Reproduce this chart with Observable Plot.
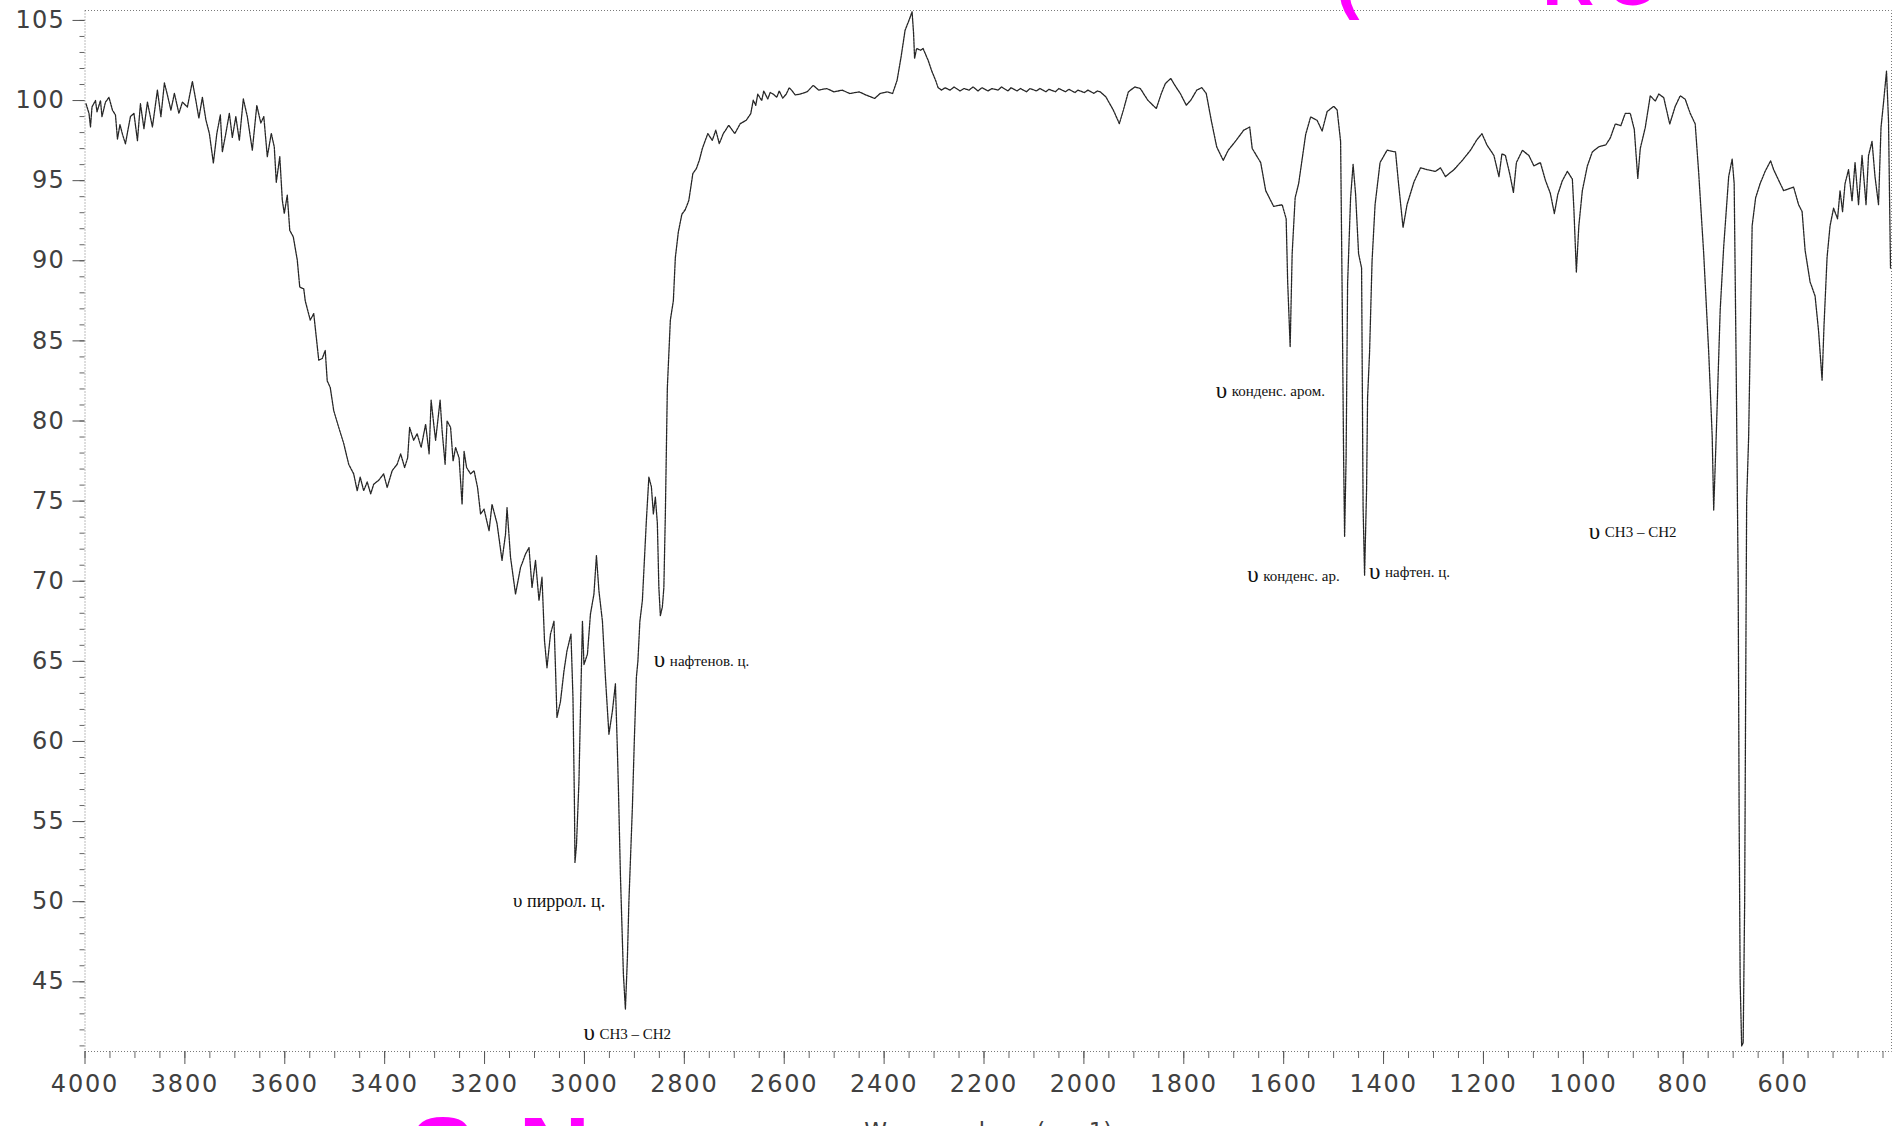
<!DOCTYPE html>
<html>
<head>
<meta charset="utf-8">
<script src="https://cdn.jsdelivr.net/npm/d3@7"></script>
<script src="https://cdn.jsdelivr.net/npm/@observablehq/plot@0.6"></script>
<style>
  html, body { margin: 0; padding: 0; background: #fff; }
  #chart svg { display: block; }
  /* the axis lettering is set wide */
  #chart g[aria-label="x-axis tick label"] text { letter-spacing: 1.8px; }
  #chart g[aria-label="y-axis tick label"] text { letter-spacing: 1.2px; }
  #chart g[aria-label="x-axis title"] text { letter-spacing: 2px; }
</style>
</head>
<body>
<div id="chart"></div>
<script>
// IR transmission spectrum: wavenumber (cm-1) vs transmittance (%), split by region.
const spectrumOH = [
  [3998,99.8],[3992,99.2],[3989,98.35],[3986,99.6],[3979,100.0],[3976,99.3],[3969,100.0],[3966,99.0],
  [3959,99.9],[3952,100.2],[3945,99.4],[3939,99.1],[3935,97.6],[3930,98.5],[3925,97.9],[3919,97.3],
  [3915,98.0],[3909,99.0],[3902,99.2],[3895,97.5],[3889,99.8],[3882,98.25],[3875,99.9],[3865,98.35],
  [3855,100.65],[3848,99.0],[3841,101.1],[3835,100.35],[3828,99.4],[3821,100.45],[3812,99.2],[3805,99.9],
  [3795,99.6],[3785,101.2],[3778,100.0],[3772,98.9],[3765,100.2],[3758,98.8],[3751,97.95],[3743,96.1],
  [3736,97.95],[3729,99.1],[3725,96.8],[3718,97.95],[3711,99.2],[3705,97.7],[3698,99.0],[3691,97.5],
  [3683,100.1],[3675,99.0],[3665,96.9],[3656,99.7],[3648,98.6],[3642,99.0],[3635,96.5],[3627,97.95],
  [3621,97.1],[3617,94.9],[3610,96.5],[3605,93.8],[3601,92.95],[3595,94.1],[3590,91.9],[3583,91.5],
  [3575,90.05],[3570,88.35],[3562,88.25],[3559,87.5],[3549,86.3],[3542,86.7],[3532,83.8],[3525,83.9],
  [3519,84.4],[3515,82.5],[3509,82.1],[3502,80.65],[3492,79.6],[3482,78.6],[3472,77.3],[3462,76.7],
  [3455,75.65],[3449,76.5],[3442,75.65],[3435,76.2],[3428,75.45],[3422,76.05],[3412,76.3],[3402,76.7],
  [3395,75.85],[3385,76.9],[3375,77.3],[3368,77.95],[3360,77.1],[3354,77.7],[3350,79.6],[3342,78.8],
  [3335,79.2],[3327,78.35],[3318,79.8],[3311,77.95],[3307,81.3],[3301,79.6],[3298,78.8],[3289,81.3],
  [3285,79.4],[3279,77.3],[3275,80.0],[3268,79.6],[3263,77.5],[3258,78.35],[3251,77.7],[3245,74.8],
  [3241,78.1],[3236,77.1],[3228,76.7],[3221,76.9],[3214,75.85],[3208,74.2],[3201,74.5]
];

const spectrumCH = [
  [3191,73.15],[3185,74.8],[3175,73.6],[3165,71.3],[3158,72.95],[3155,74.6],[3148,71.5],[3138,69.2],
  [3128,70.85],[3118,71.7],[3111,72.1],[3105,69.6],[3098,71.3],[3091,68.8],[3085,70.25],[3080,66.3],
  [3075,64.6],[3068,66.7],[3061,67.5],[3058,64.6],[3055,61.5],[3048,62.5],[3041,64.4],[3035,65.65],
  [3027,66.7],[3023,62.75],[3020,56.0],[3019,52.45],[3016,53.5],[3011,57.5],[3009,60.45],[3004,67.5],
  [3001,64.8],[2994,65.45],[2988,67.95],[2981,69.2],[2976,71.6],[2971,69.4],[2964,67.5],[2958,64.0],
  [2951,60.45],[2944,61.9],[2938,63.6],[2934,59.4],[2932,57.1],[2928,51.7],[2922,45.46],[2918,43.3],
  [2914,46.5],[2911,50.0],[2904,55.9],[2900,60.2],[2896,64.0],[2893,65.0],[2889,67.5],[2884,68.8],
  [2880,71.3],[2876,73.8],[2871,76.5],[2866,75.9],[2862,74.2],[2858,75.25],[2854,73.6],[2851,69.6],
  [2848,67.85],[2844,68.4],[2841,69.6],[2838,74.2],[2834,82.1],[2828,86.3],[2822,87.5],[2818,90.2],
  [2812,91.8],[2805,92.9],[2798,93.2],[2791,93.77],[2787,94.6],[2783,95.44],[2776,95.75],[2770,96.27],
  [2764,97.0],[2753,97.94],[2744,97.52],[2737,98.15],[2730,97.31],[2722,97.94],[2711,98.46],[2699,97.94],
  [2688,98.56],[2676,98.77],[2667,99.19],[2662,100.02],[2657,99.7],[2653,100.4],[2645,100.0],[2641,100.6],
  [2633,100.1],[2628,100.5],[2622,100.4],[2615,100.2],[2610,100.6],[2603,100.15],[2596,100.4],[2590,100.8],
  [2584,100.6],[2578,100.35],[2569,100.4],[2554,100.55],[2542,100.95],[2531,100.65],[2515,100.75],
  [2500,100.54],[2484,100.65],[2469,100.44],[2450,100.54],[2435,100.33],[2419,100.13],[2408,100.44],
  [2393,100.54],[2383,100.44]
];

const spectrumCO2 = [
  [2374,101.27],[2366,102.73],[2358,104.39],[2350,105.02],[2344,105.54],[2341,104.19],[2339,102.63],
  [2335,103.25],[2327,103.14],[2322,103.25],[2312,102.52],[2304,101.79],[2297,101.27],[2292,100.81],
  [2285,100.65],[2278,100.8],[2268,100.65],[2260,100.85],[2248,100.6],[2240,100.75],[2230,100.65],
  [2222,100.85],[2212,100.6],[2204,100.8],[2192,100.6],[2184,100.75],[2172,100.65],[2165,100.85],
  [2152,100.6],[2146,100.8],[2134,100.6],[2127,100.75],[2115,100.55],[2108,100.75],[2095,100.6],
  [2088,100.75],[2076,100.55],[2070,100.7],[2057,100.55],[2050,100.75],[2037,100.55],[2030,100.7],
  [2018,100.5],[2012,100.65],[1999,100.5],[1992,100.65],[1980,100.45],[1973,100.6],[1967,100.54],
  [1956,100.23],[1941,99.4],[1929,98.56],[1921,99.4],[1911,100.54],[1898,100.85],[1887,100.75],
  [1872,100.02],[1855,99.5],[1845,100.44],[1837,101.06],[1826,101.38],[1818,100.96],[1807,100.44],
  [1795,99.71],[1786,100.02],[1774,100.65],[1764,100.81],[1755,100.44],[1745,98.77],[1734,97.1],
  [1721,96.27],[1711,96.9],[1695,97.52],[1680,98.15],[1668,98.35]
];

const spectrumFingerprint = [
  [1663,97.01],[1646,96.13],[1636,94.38],[1620,93.39],[1603,93.5],[1595,92.62],[1592,88.68],[1587,84.63],
  [1583,90.44],[1577,93.94],[1570,94.82],[1556,97.88],[1546,98.98],[1533,98.76],[1523,98.1],[1513,99.31],
  [1500,99.64],[1493,99.42],[1486,97.45],[1483,88.24],[1480,77.72],[1478,72.79],[1475,77.72],[1472,88.57],
  [1466,93.94],[1461,96.02],[1456,94.16],[1450,90.44],[1444,89.55],[1441,74.65],[1438,70.38],[1434,75.75],
  [1432,81.45],[1428,84.3],[1423,90.0],[1417,93.5],[1407,96.13],[1393,96.9],[1376,96.79],[1370,94.82],
  [1361,92.08],[1353,93.5],[1339,94.93],[1326,95.8],[1313,95.69],[1296,95.58],[1286,95.8],[1276,95.25],
  [1259,95.69],[1243,96.24],[1226,96.9],[1213,97.56],[1203,97.93],[1193,97.23],[1179,96.57],[1169,95.25],
  [1163,96.68],[1156,96.57],[1147,95.37],[1140,94.27],[1134,96.13],[1122,96.9],[1109,96.57],[1099,95.92],
  [1086,96.13],[1076,95.03],[1066,94.2],[1058,92.95],[1051,94.16],[1042,95.0],[1032,95.58],[1022,95.1],
  [1019,93.28],[1014,89.3],[1009,92.19],[1002,94.38],[992,95.92],[982,96.79],[969,97.12],[955,97.23],
  [946,97.67],[936,98.54],[925,98.43],[916,99.2],[906,99.2],[898,98.2],[891,95.14],[886,97.01],
  [876,98.32],[866,100.3],[856,99.96],[849,100.41],[839,100.18],[827,98.54],[816,99.64],[806,100.3],
  [796,100.08],[786,99.2],[776,98.54],[769,95.47],[759,90.44],[749,84.3],[742,79.04],[739,74.44],
  [734,79.04],[726,86.92],[719,90.87],[709,95.25],[702,96.35],[698,94.82],[694,83.42],[690,70.0],
  [688,55.0],[686,45.0],[683,41.0],[680,41.2],[677,50.0],[675,63.0],[673,75.0],[669,79.04],
  [665,86.7],[662,92.19],[655,93.94],[646,94.82],[636,95.58],[625,96.24],[619,95.69],[609,95.03],
  [599,94.38],[589,94.49],[579,94.6],[569,93.5],[562,93.07],[556,90.66],[546,88.68],[536,87.8],
  [529,85.61],[522,82.55],[518,86.05],[512,90.22],[506,92.19],[499,93.28],[491,92.62],[486,94.38],
  [481,93.07],[476,94.82],[469,95.69],[462,93.72],[456,96.13],[449,93.5],[442,96.57],[434,93.5],
  [429,96.57],[422,97.45],[416,95.25],[409,93.5],[404,98.32],[399,99.86],[393,101.83],[389,98.76],
  [385,89.55]
];

// Axis ticks
const xTickValues = [4000, 3800, 3600, 3400, 3200, 3000, 2800, 2600, 2400, 2200, 2000, 1800, 1600, 1400, 1200, 1000, 800, 600];
const yTickValues = [45, 50, 55, 60, 65, 70, 75, 80, 85, 90, 95, 100, 105];

// Band assignments
const bandNames = ["пиррол. ц.", "CH3 – CH2", "нафтенов. ц.", "конденс. аром.", "конденс. ар.", "нафтен. ц.", "CH3 – CH2"];
const bandWn = [3143, 3002, 2861, 1736, 1673, 1429, 989];
const bandT = [50.05, 41.8, 65.1, 81.9, 70.4, 70.6, 73.1];

// Magenta overlay lettering running off the page edges
const overlayTop = ["(", "R", "O"];
const overlayTopWn = [1472, 1030, 901];
const overlayBottom = ["S", "N"];
const overlayBottomWn = [3284, 3060];

const spectrum = [...spectrumOH, ...spectrumCH, ...spectrumCO2, ...spectrumFingerprint]
  .map(([wn, t]) => ({wn, t}));

const xMinor = d3.range(4000, 383, -50);
const yMinor = d3.range(41, 106, 1);
const bandIdx = d3.range(bandNames.length);
const mainBands = bandIdx.filter(i => i > 0);
const inkGrey = "#404040";
const serif = "Liberation Serif, Times New Roman, serif";
const sans = "DejaVu Sans, Liberation Sans, sans-serif";

const chart = Plot.plot({
  width: 1895,
  height: 1126,
  marginLeft: 84.5,
  marginRight: 4,
  marginTop: 10,
  marginBottom: 75,
  style: {background: "white", fontFamily: sans, overflow: "hidden"},
  x: {domain: [4000, 383]},
  y: {domain: [40.65, 105.62]},
  marks: [
    Plot.frame({stroke: "#7a7a7a", strokeDasharray: "1,2"}),
    Plot.axisY({ticks: yMinor, tickSize: 5, tickFormat: () => "", label: null, stroke: "#666"}),
    Plot.axisY({ticks: yTickValues, tickSize: 12, tickPadding: 8, tickFormat: "d", label: null,
      stroke: "#555", fill: inkGrey, fontSize: 24, fontFamily: sans}),
    Plot.axisX({ticks: xMinor, tickSize: 7, tickFormat: () => "", label: null, stroke: "#666"}),
    Plot.axisX({ticks: xTickValues, tickSize: 13, tickPadding: 10, tickFormat: "d", label: null,
      stroke: "#555", fill: inkGrey, fontSize: 24, fontFamily: sans}),
    Plot.text(["Wavenumbers (cm-1)"], {frameAnchor: "bottom", lineAnchor: "top", dy: 71,
      fontSize: 23, fontFamily: sans, fill: inkGrey, ariaLabel: "x-axis title"}),
    Plot.line(spectrum, {x: "wn", y: "t", stroke: "#262626", strokeWidth: 1.3, strokeDasharray: "2.4,1"}),
    // nu symbols and band descriptions
    Plot.text([0], {x: i => bandWn[i], y: i => bandT[i], text: () => "υ", textAnchor: "start",
      fontFamily: serif, fontSize: 19, fill: "#111"}),
    Plot.text([0], {x: i => bandWn[i], y: i => bandT[i], text: i => bandNames[i], textAnchor: "start",
      dx: 14, fontFamily: serif, fontSize: 18, fill: "#111"}),
    Plot.text(mainBands, {x: i => bandWn[i], y: i => bandT[i], text: () => "υ", textAnchor: "start",
      fontFamily: serif, fontSize: 23, fill: "#111"}),
    Plot.text(mainBands, {x: i => bandWn[i], y: i => bandT[i], text: i => bandNames[i], textAnchor: "start",
      dx: 16, dy: 1, fontFamily: serif, fontSize: 15, fill: "#111"}),
    // overlay lettering
    Plot.text(d3.range(overlayTop.length), {x: i => overlayTopWn[i], text: i => overlayTop[i],
      frameAnchor: "top", lineAnchor: "bottom", dy: -6, fontSize: 72, fontWeight: "bold",
      fontFamily: "Liberation Sans, sans-serif", fill: "#ff00ff"}),
    Plot.text(d3.range(overlayBottom.length), {x: i => overlayBottomWn[i], text: i => overlayBottom[i],
      frameAnchor: "bottom", lineAnchor: "top", dy: 64, fontSize: 100, fontWeight: "bold",
      fontFamily: "Liberation Sans, sans-serif", fill: "#ff00ff"})
  ]
});

document.getElementById("chart").appendChild(chart);
</script>
</body>
</html>
